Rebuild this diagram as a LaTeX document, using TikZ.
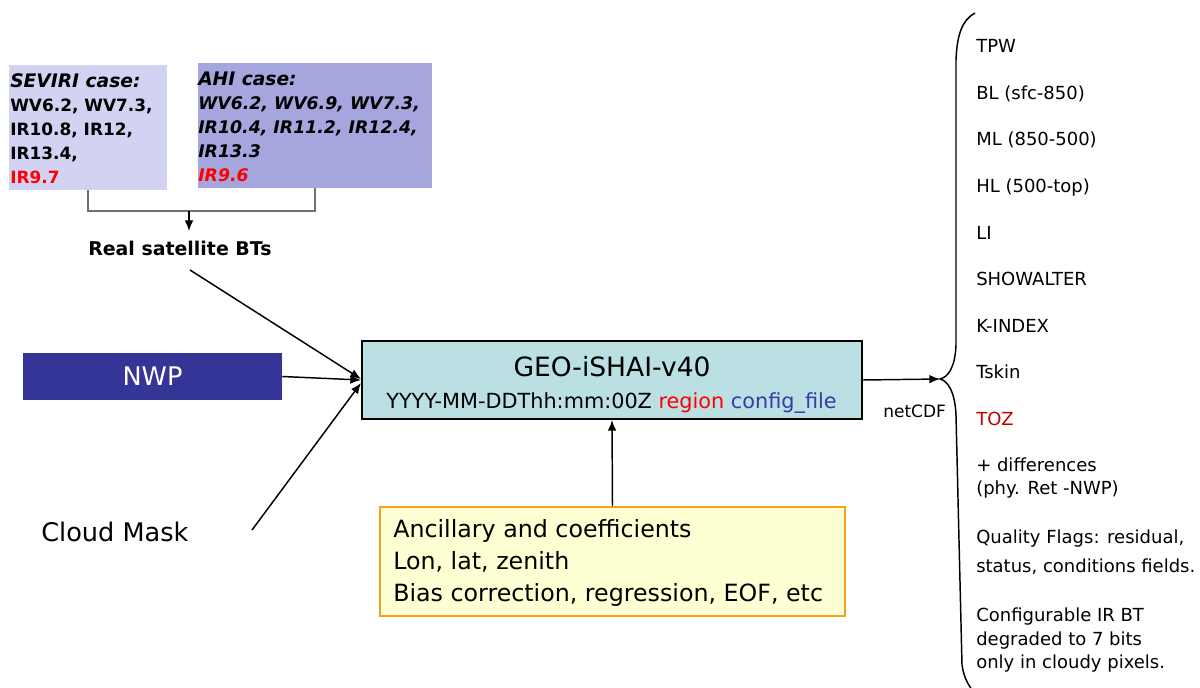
\documentclass[tikz,border=0pt]{standalone}
\usepackage{fontspec}
\setmainfont{DejaVu Sans}
\usetikzlibrary{arrows.meta,calc}
\definecolor{sevfill}{HTML}{D2D2F2}
\definecolor{ahifill}{HTML}{A6A6DE}
\definecolor{nwpfill}{HTML}{353598}
\definecolor{mainfill}{HTML}{BAE0E4}
\definecolor{ancfill}{HTML}{FFFFD4}
\definecolor{ancdraw}{HTML}{F7A11A}
\definecolor{tozred}{HTML}{C00000}
\definecolor{irred}{HTML}{FF0000}
\definecolor{cfgblue}{HTML}{3A3AA8}
\definecolor{lnkgray}{HTML}{707070}
\newcommand{\fsz}[1]{\fontsize{#1}{#1}\selectfont}
\begin{document}
\begin{tikzpicture}[x=0.75pt,y=-0.75pt,
  txt/.style={anchor=base west,inner sep=0pt},
  ctxt/.style={anchor=base,inner sep=0pt},
  box/.style={rectangle,inner sep=0pt},
  conn/.style={line width=1.1pt,-{Latex[length=8pt,width=6.5pt]}},
  outtxt/.style={txt,font=\fsz{13.5pt}},
  headtxt/.style={txt,font=\fsz{14pt}\bfseries\itshape},
  sevtxt/.style={txt,font=\fsz{12.7pt}\bfseries},
  ahitxt/.style={txt,font=\fsz{13pt}\bfseries\itshape},
  anctxt/.style={txt,font=\fsz{17.8pt}}]
\useasboundingbox (0,0) rectangle (1200,688);

% SEVIRI box
\node[box,fill=sevfill,minimum width=118.5pt,minimum height=93.75pt] (sev) at (88,127.5) {};
\node[headtxt] (sev1) at (10,88) {SEVIRI case:};
\node[sevtxt] (sev2) at (10,112) {WV6.2, WV7.3,};
\node[sevtxt] (sev3) at (10,136) {IR10.8, IR12,};
\node[sevtxt] (sev4) at (10,160) {IR13.4,};
\node[sevtxt,text=irred] (sev5) at (10,184) {IR9.7};

% AHI box
\node[box,fill=ahifill,minimum width=175.5pt,minimum height=93.75pt] (ahi) at (315,125.5) {};
\node[headtxt] (ahi1) at (198,86) {AHI case:};
\node[ahitxt] (ahi2) at (198,110) {WV6.2, WV6.9, WV7.3,};
\node[ahitxt] (ahi3) at (198,134) {IR10.4, IR11.2, IR12.4,};
\node[ahitxt] (ahi4) at (198,158) {IR13.3};
\node[ahitxt,text=irred] (ahi5) at (198,182) {IR9.6};

% join
\coordinate (jn) at (189,211);
\coordinate (jtip) at (189,231);
\draw[lnkgray,line width=1pt] (sev.south) |- (jn) -| (ahi.south);
\draw[conn,line width=1pt] (jn) -- (jtip);

\node[txt,font=\fsz{14.2pt}\bfseries] (real) at (88,256) {Real satellite BTs};

% NWP
\node[box,fill=nwpfill,text=white,font=\fsz{19.2pt},minimum width=194.25pt,minimum height=35.25pt] (nwp) at (152.5,376.5) {NWP};

% Cloud mask
\node[txt,font=\fsz{19.2pt}] (cloud) at (41,541) {Cloud Mask};

% Main
\node[box,draw=black,line width=1.5pt,fill=mainfill,minimum width=375pt,minimum height=58.5pt] (main) at (612,380) {};
\node[ctxt,font=\fsz{19.9pt}] (title) at (612,376) {GEO-iSHAI-v40};
\node[ctxt,font=\fsz{15.6pt}] (cmd) at (611.5,408) {YYYY-MM-DDThh:mm:00Z \textcolor{irred}{region} \textcolor{cfgblue}{config\_file}};

% Ancillary
\node[box,draw=ancdraw,line width=1.3pt,fill=ancfill,minimum width=348.75pt,minimum height=81.75pt] (anc) at (612.5,561.5) {};
\node[anctxt] (anc1) at (393,537) {Ancillary and coefficients};
\node[anctxt] (anc2) at (393,569) {Lon, lat, zenith};
\node[anctxt] (anc3) at (393,601) {Bias correction, regression, EOF, etc};

% inputs
\coordinate (realstart) at (190,270);
\coordinate (cloudstart) at (252,530);
\draw[conn] (realstart) -- ($(main.west)+(0,-1)$);
\draw[conn] (nwp.east) -- ($(main.west)+(0,0)$);
\draw[conn] (cloudstart) -- ($(main.west)+(0,3)$);
\draw[conn] (anc.north) -- (main.south);

% output
\coordinate (tip) at (940,379);
\draw[conn] (main.east) -- (tip);
\node[txt,font=\fsz{12.75pt}] (nc) at (883,417) {netCDF};

% brace
\draw[line width=1.1pt] (975,13) .. controls (962,20) and (957,35) .. (956,60)
  -- (956,345) .. controls (955,368) and (948,377) .. (tip)
  .. controls (948,381) and (955,392) .. (956,415)
  -- (962,665) .. controls (964,678) and (968,684) .. (972,690);

% outputs
\node[outtxt] (o1) at (976,53) {TPW};
\node[outtxt] (o2) at (976,99.5) {BL (sfc-850)};
\node[outtxt] (o3) at (976,146) {ML (850-500)};
\node[outtxt] (o4) at (976,192.5) {HL (500-top)};
\node[outtxt] (o5) at (976,239) {LI};
\node[outtxt] (o6) at (976,285.5) {SHOWALTER};
\node[outtxt] (o7) at (976,332) {K-INDEX};
\node[outtxt] (o8) at (976,378) {Tskin};
\node[outtxt,text=tozred] (o9) at (976,425) {TOZ};
\node[outtxt] (o10) at (976,471) {+ differences};
\node[outtxt] (o11) at (976,494) {(phy. Ret -NWP)};
\node[outtxt] (o12) at (976,543) {Quality Flags: residual,};
\node[outtxt] (o13) at (976,572) {status, conditions fields.};
\node[outtxt] (o14) at (976,621) {Configurable IR BT};
\node[outtxt] (o15) at (976,645) {degraded to 7 bits};
\node[outtxt] (o16) at (976,668) {only in cloudy pixels.};
\end{tikzpicture}
\end{document}
